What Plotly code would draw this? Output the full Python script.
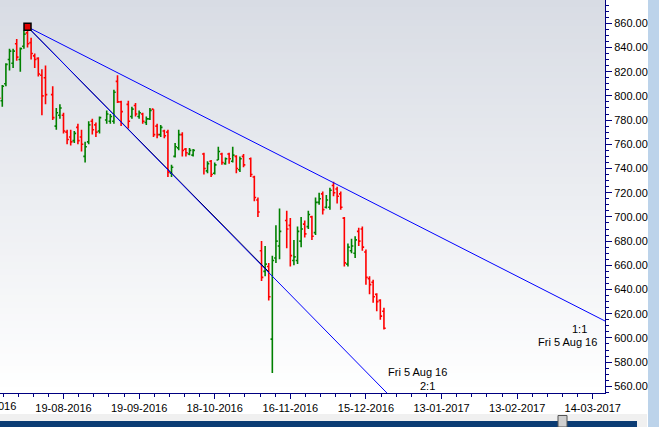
import numpy as np
import pandas as pd
import plotly.graph_objects as go

# ---------------- data ----------------
dates = ["2016-07-26","2016-07-27","2016-07-28","2016-07-29","2016-08-01","2016-08-02","2016-08-03","2016-08-04",
         "2016-08-05","2016-08-08","2016-08-09","2016-08-10","2016-08-11","2016-08-12","2016-08-16","2016-08-17",
         "2016-08-18","2016-08-19","2016-08-22","2016-08-23","2016-08-24","2016-08-25","2016-08-26","2016-08-29",
         "2016-08-30","2016-08-31","2016-09-01","2016-09-02","2016-09-06","2016-09-07","2016-09-08","2016-09-09",
         "2016-09-12","2016-09-14","2016-09-15","2016-09-16","2016-09-19","2016-09-20","2016-09-21","2016-09-22",
         "2016-09-23","2016-09-26","2016-09-27","2016-09-28","2016-09-29","2016-09-30","2016-10-03","2016-10-04",
         "2016-10-05","2016-10-06","2016-10-07","2016-10-10","2016-10-13","2016-10-14","2016-10-17","2016-10-18",
         "2016-10-19","2016-10-20","2016-10-21","2016-10-24","2016-10-25","2016-10-26","2016-10-27","2016-10-28",
         "2016-11-01","2016-11-02","2016-11-03","2016-11-04","2016-11-07","2016-11-08","2016-11-09","2016-11-10",
         "2016-11-11","2016-11-15","2016-11-16","2016-11-17","2016-11-18","2016-11-21","2016-11-22","2016-11-23",
         "2016-11-24","2016-11-25","2016-11-28","2016-11-29","2016-11-30","2016-12-01","2016-12-02","2016-12-05",
         "2016-12-06","2016-12-07","2016-12-08","2016-12-09","2016-12-12","2016-12-13","2016-12-14","2016-12-15",
         "2016-12-16","2016-12-19","2016-12-20","2016-12-21","2016-12-22"]

opens  = [804,796,810,830,827,843,830,841, 852,844,833,831,817,815,801,775, 784,784,770,766,763,774,766,750,
          762,779,776,771,780,779,779,812, 795,793,783,792,783,785,778,781, 789,775,768,771,770,736,750,757,
          768,756,752,751,752,738,746,736, 747,752,744,752,746,750,739,750, 748,733,714,672,655,659,599,666,
          676,697,693,664,664,680,694,692, 700,687,712,719,708,708,726,723, 719,699,661,672,670,688,690,671,
          649,646,636,631,622]
highs  = [808,809,827,839,839,847,840,854, 857,848,835,832,822,825,808,790, 793,786,772,772,771,777,772,762,
          779,781,778,783,788,785,805,817, 796,796,791,794,788,786,783,790, 789,777,776,772,772,743,761,772,
          770,757,757,756,753,746,747,745, 758,753,749,753,758,751,750,752, 749,734,716,680,676,662,668,693,
          707,705,699,681,692,700,697,705, 701,716,720,721,718,724,729,725, 721,700,678,682,684,691,692,673,
          651,648,637,632,625]
lows   = [796,791,808,821,823,829,820,839, 840,830,823,816,784,793,780,772, 781,769,760,759,761,760,754,745,
          760,768,766,769,777,777,777,794, 775,773,781,783,781,777,776,780, 766,765,766,765,733,733,749,755,
          750,750,751,750,735,736,733,735, 747,743,743,744,745,736,737,741, 733,713,700,647,651,631,571,662,
          665,674,659,660,661,675,683,690, 681,685,710,702,707,706,717,711, 706,659,659,670,666,676,672,644,
          636,629,622,615,607]
closes = [798,808,826,837,837,832,839,851, 843,835,830,818,800,801,782,786, 790,771,764,762,769,763,760,758,
          776,772,770,782,785,783,803,795, 787,779,789,785,786,779,781,788, 768,768,774,767,737,741,758,768,
          755,753,755,755,740,744,735,743, 754,745,748,748,751,740,748,743, 735,716,704,650,661,634,664,680,
          688,690,668,667,688,690,686,702, 684,712,715,706,714,722,720,717, 708,662,675,676,681,680,675,650,
          644,634,630,618,608]

tick_dates = ["2016-08-19","2016-09-19","2016-10-18","2016-11-16","2016-12-15",
              "2017-01-13","2017-02-13","2017-03-14"]
cut_tick_date = "2016-07-21"

fan_origin_date = "2016-08-05"
fan_origin_price = 857.0
fan_1x1_per_bar = 1.515
fan_names = ["1:1", "2:1"]
fan_factors = [1, 2]
fan_label_date = "Fri 5 Aug 16"
base_line_per_bar = 3.02
base_line_bars = 67

# ---------------- helpers ----------------
ref = "2016-08-19"
def bidx(d):
    return int(np.busday_count(ref, d))

x = [bidx(d) for d in dates]
tickvals = [bidx(d) for d in tick_dates]
ticktext = [pd.Timestamp(d).strftime("%d-%m-%Y") for d in tick_dates]
x0 = bidx(fan_origin_date)

X_MIN, X_MAX = -17.64, 150.4
Y_MIN, Y_MAX = 554.5, 879.2
NAVY = "#000080"
FONT = "Liberation Sans, Arial, sans-serif"

fig = go.Figure()

fig.add_trace(go.Ohlc(
    x=x, open=opens, high=highs, low=lows, close=closes,
    increasing=dict(line=dict(color="#008000", width=1.6)),
    decreasing=dict(line=dict(color="#ff0000", width=1.6)),
    tickwidth=0.5, hoverinfo="skip"))

# base trendline (black) under the fan
fig.add_trace(go.Scatter(
    x=[x0, x0 + base_line_bars],
    y=[fan_origin_price, fan_origin_price - base_line_per_bar * base_line_bars],
    mode="lines", line=dict(color="black", width=1), hoverinfo="skip"))

# Gann fan lines
L = 200
for f in fan_factors:
    fig.add_trace(go.Scatter(
        x=[x0, x0 + L],
        y=[fan_origin_price, fan_origin_price - fan_1x1_per_bar * f * L],
        mode="lines", line=dict(color="#0000ff", width=1), hoverinfo="skip"))

fig.add_trace(go.Scatter(
    x=[x0], y=[fan_origin_price], mode="markers",
    marker=dict(symbol="square", size=7, color="#e00000", line=dict(color="black", width=1.5)),
    hoverinfo="skip"))

# ---------------- background gradient ----------------
shapes = []
N = 60
top = np.array([216, 220, 228])
bot = np.array([255, 255, 255])
for k in range(N):
    t = (k + 0.5) / N
    c = bot + (top - bot) * t
    shapes.append(dict(type="rect", xref="paper", yref="paper", x0=0, x1=1,
                       y0=k / N, y1=(k + 1) / N + 0.002, layer="below",
                       line=dict(width=0), fillcolor="rgb(%d,%d,%d)" % tuple(c.round())))

PW, PH = 605.0, 393.0
def px2x(p): return p / PW
def py2y(p): return (PH - p) / PH

# window chrome: scrollbar + right strip
shapes += [
    dict(type="rect", xref="paper", yref="paper", x0=px2x(0), x1=px2x(647), y0=py2y(427), y1=py2y(414),
         line=dict(width=0), fillcolor="#f0f0f0"),
    dict(type="rect", xref="paper", yref="paper", x0=px2x(0), x1=px2x(637), y0=py2y(427), y1=py2y(421),
         line=dict(width=0), fillcolor="#0b3c74"),
    dict(type="rect", xref="paper", yref="paper", x0=px2x(558), x1=px2x(567), y0=py2y(427), y1=py2y(415.5),
         line=dict(width=1, color="#555555"), fillcolor="#cfcfcf"),
    dict(type="rect", xref="paper", yref="paper", x0=px2x(648), x1=px2x(660), y0=py2y(428), y1=py2y(-1),
         line=dict(width=0), fillcolor="#bcd3ea"),
]

annotations = [
    dict(x=143.2, y=607.4, xref="x", yref="y", text=fan_names[0], showarrow=False,
         xanchor="center", yanchor="middle"),
    dict(x=148.8, y=596.3, xref="x", yref="y", text=fan_label_date, showarrow=False,
         xanchor="right", yanchor="middle"),
    dict(x=98.3, y=571.9, xref="x", yref="y", text=fan_label_date, showarrow=False,
         xanchor="center", yanchor="middle"),
    dict(x=101.0, y=560.5, xref="x", yref="y", text=fan_names[1], showarrow=False,
         xanchor="center", yanchor="middle"),
    dict(x=(bidx(cut_tick_date) - X_MIN) / (X_MAX - X_MIN), y=py2y(406), xref="paper", yref="paper",
         text=pd.Timestamp(cut_tick_date).strftime("%d-%m-%Y"), showarrow=False,
         xanchor="center", yanchor="middle"),
]

minor_x = list(np.arange(bidx(cut_tick_date), X_MAX, 21 / 5))

fig.update_layout(
    template="none",
    width=659, height=427,
    margin=dict(l=0, r=54, t=0, b=34, pad=0),
    paper_bgcolor="white", plot_bgcolor="white",
    showlegend=False,
    font=dict(family=FONT, size=11, color="black"),
    shapes=shapes, annotations=annotations,
    xaxis=dict(range=[X_MIN, X_MAX], tickmode="array", tickvals=tickvals, ticktext=ticktext,
               ticks="outside", ticklen=5, tickcolor=NAVY, tickwidth=1,
               showline=True, linecolor=NAVY, linewidth=1, mirror=False,
               showgrid=False, zeroline=False, automargin=False,
               rangeslider=dict(visible=False),
               tickfont=dict(family=FONT, size=11, color="black"),
               minor=dict(tickmode="array", tickvals=minor_x, ticks="outside", ticklen=3,
                          tickcolor=NAVY, showgrid=False)),
    yaxis=dict(range=[Y_MIN, Y_MAX], side="right", tickmode="linear", tick0=560, dtick=20,
               tickformat=".2f", ticks="outside", ticklen=6, tickcolor=NAVY, tickwidth=1,
               showline=True, linecolor=NAVY, linewidth=1, mirror=False,
               showgrid=False, zeroline=False, automargin=False,
               tickfont=dict(family=FONT, size=11, color="black"),
               minor=dict(tickmode="linear", tick0=560, dtick=5, ticks="outside", ticklen=3,
                          tickcolor=NAVY, showgrid=False)),
)

fig.write_html("out.html", config={"displayModeBar": False, "staticPlot": True},
               post_script="document.body.style.margin='0px';document.body.style.overflow='hidden';")
